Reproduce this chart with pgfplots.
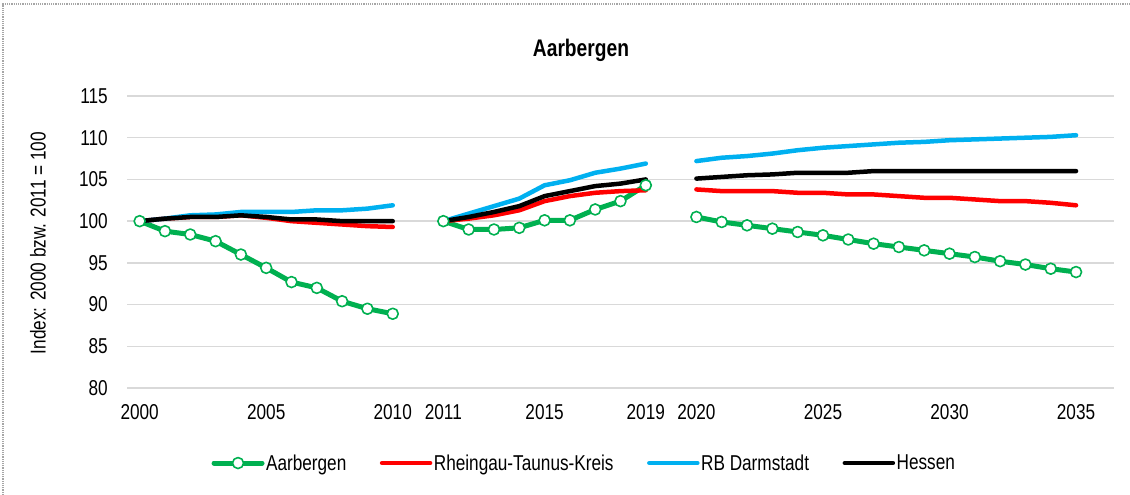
\documentclass[border=0pt]{standalone}
\usepackage{fontspec}
\setmainfont{Liberation Sans}[FakeStretch=0.8]
\usepackage{pgfplots}
\usepackage{pgfplotstable}
\pgfplotsset{compat=1.18}
\definecolor{cgreen}{HTML}{00B050}
\definecolor{cred}{HTML}{FF0000}
\definecolor{cblue}{HTML}{00B0F0}
\definecolor{cgrid}{HTML}{D9D9D9}

\pgfplotstableread{
idx green red blue black
0 100.0 100.0 100.0 100.0
1 98.8 100.3 100.3 100.3
2 98.4 100.5 100.7 100.5
3 97.6 100.5 100.8 100.5
4 96.0 100.7 101.1 100.7
5 94.4 100.4 101.1 100.5
6 92.7 100.0 101.1 100.2
7 92.0 99.8 101.3 100.2
8 90.4 99.6 101.3 100.0
9 89.5 99.4 101.5 100.0
10 88.9 99.3 101.9 100.0
11 nan nan nan nan
12 100.0 100.0 100.0 100.0
13 99.0 100.3 100.9 100.5
14 99.0 100.7 101.8 101.1
15 99.2 101.3 102.7 101.8
16 100.1 102.4 104.3 103.0
17 100.1 103.0 104.9 103.6
18 101.4 103.4 105.8 104.2
19 102.4 103.6 106.3 104.5
20 104.3 103.7 106.9 105.0
21 nan nan nan nan
22 100.5 103.8 107.2 105.1
23 99.9 103.6 107.6 105.3
24 99.5 103.6 107.8 105.5
25 99.1 103.6 108.1 105.6
26 98.7 103.4 108.5 105.8
27 98.3 103.4 108.8 105.8
28 97.8 103.2 109.0 105.8
29 97.3 103.2 109.2 106.0
30 96.9 103.0 109.4 106.0
31 96.5 102.8 109.5 106.0
32 96.1 102.8 109.7 106.0
33 95.7 102.6 109.8 106.0
34 95.2 102.4 109.9 106.0
35 94.8 102.4 110.0 106.0
36 94.3 102.2 110.1 106.0
37 93.9 101.9 110.3 106.0
}\datatable

\begin{document}
\begin{tikzpicture}[x=1pt,y=1pt]
\path[use as bounding box] (0,0) rectangle (1130,-495);
\draw[gray!70, densely dotted, line width=1.2pt] (3,-495) -- (3,-4) -- (1130,-4);
\begin{axis}[
  at={(127pt,-388pt)}, anchor=south west,
  scale only axis, width=987pt, height=292pt,
  xmin=-0.5, xmax=38.5, ymin=80, ymax=115,
  axis line style={draw=none},
  tick style={draw=none},
  ymajorgrids, grid style={color=cgrid, line width=1.4pt},
  ytick={80,85,...,115},
  xtick={0,5,10,12,16,20,22,27,32,37},
  xticklabels={2000,2005,2010,2011,2015,2019,2020,2025,2030,2035},
  /pgf/number format/assume math mode=true,
  tick label style={font=\fontsize{21.5}{25}\selectfont},
  yticklabel style={anchor=east, inner sep=0pt, xshift=-19pt},
  xticklabel style={anchor=north, inner sep=0pt, yshift=-16pt},
  unbounded coords=jump,
  clip=false,
  legend image code/.code={\draw[mark repeat=2,mark phase=2,#1] plot coordinates {(0pt,0pt) (24pt,0pt) (48pt,0pt)};},
  legend columns=4,
  legend style={draw=none, fill=none, at={(rel axis cs:0.463,-0.257)}, anchor=center,
    font=\fontsize{21.5}{25}\selectfont, inner sep=0pt,
    /tikz/every even column/.append style={column sep=32pt},
    nodes={inner sep=1.5pt}},
]
\addplot[cgreen, line width=5pt, line join=round, line cap=round, mark=*, mark size=5.5pt,
  mark options={fill=white, draw=cgreen, line width=1.6pt}] table[x=idx,y=green]{\datatable};
\addlegendentry{Aarbergen}
\addplot[cred, line width=4.5pt, line join=round, line cap=round] table[x=idx,y=red]{\datatable};
\addlegendentry{Rheingau-Taunus-Kreis}
\addplot[cblue, line width=4.5pt, line join=round, line cap=round] table[x=idx,y=blue]{\datatable};
\addlegendentry{RB Darmstadt}
\addplot[black, line width=4.5pt, line join=round, line cap=round] table[x=idx,y=black]{\datatable};
\addlegendentry{Hessen}
\end{axis}
\node[font=\fontsize{24}{28}\selectfont\bfseries] at (581,-50) {Aarbergen};
\node[rotate=90, font=\fontsize{21.5}{25}\selectfont] at (38,-243) {Index: 2000 bzw. 2011 = 100};
\end{tikzpicture}
\end{document}
